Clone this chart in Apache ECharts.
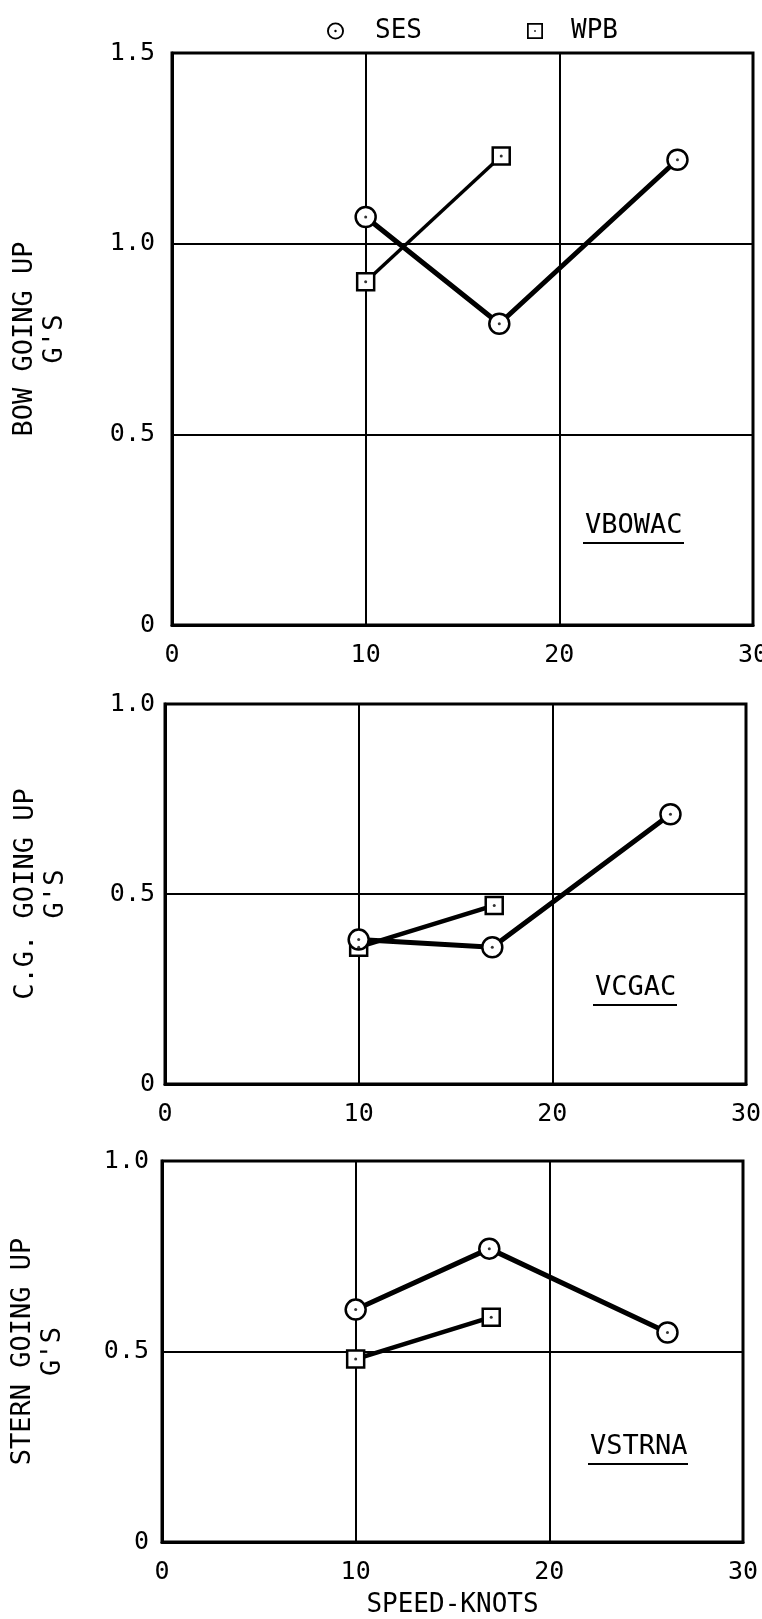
<!DOCTYPE html>
<html><head><meta charset="utf-8">
<script src="https://cdn.jsdelivr.net/npm/echarts@6/dist/echarts.min.js"></script>
<style>html,body{margin:0;padding:0;background:#fff}#c{width:762px;height:1619px}</style>
</head><body><div id="c"></div>
<script>
// ---- data ----
const xTicks = ['0', '10', '20', '30'];
const sesSpeed = [10, 16.9, 26.1];
const wpbSpeed = [10, 17];
const bowSES = [1.07, 0.79, 1.22];
const bowWPB = [0.90, 1.23];
const cgSES = [0.38, 0.36, 0.71];
const cgWPB = [0.36, 0.47];
const sternSES = [0.61, 0.77, 0.55];
const sternWPB = [0.48, 0.59];
const yTicksBow = ['0', '0.5', '1.0', '1.5'];
const yTicksCG = ['0', '0.5', '1.0'];
const yTicksStern = ['0', '0.5', '1.0'];
const yTitles = ["BOW GOING UP\nG'S", "C.G. GOING UP\nG'S", "STERN GOING UP\nG'S"];
const panelTags = ['VBOWAC', 'VCGAC', 'VSTRNA'];
const xTitle = 'SPEED-KNOTS';
const seriesNames = ['SES', 'WPB'];

// ---- layout ----
const FONT = '"DejaVu Sans Mono", "Liberation Mono", monospace';
const grids = [
  {left: 172, top: 53, width: 581, height: 572},
  {left: 165, top: 704, width: 581, height: 380},
  {left: 162, top: 1161, width: 581, height: 381}
];
const yMax = [1.5, 1.0, 1.0];
const yLabelSets = [yTicksBow, yTicksCG, yTicksStern];
const panelData = [[bowSES, bowWPB], [cgSES, cgWPB], [sternSES, sternWPB]];
const nameGaps = [102, 94, 94];
const yLabelMargins = [17, 10, 13];
const wpbWidths = [3.5, 4.5, 4.5];
// text left, text centre y, underline x1, x2, y
const tagPos = [[585, 526, 583, 684, 543], [595, 988, 593, 677, 1005], [590, 1447, 588, 688, 1464]];

const zip = (xs, ys) => xs.map((x, i) => [x, ys[i]]);

const ringIcon = 'path://M10,0 A10,10 0 1,1 10,20 A10,10 0 1,1 10,0 Z M10,2.2 A7.8,7.8 0 1,0 10,17.8 A7.8,7.8 0 1,0 10,2.2 Z M10,8.6 A1.4,1.4 0 1,1 10,11.4 A1.4,1.4 0 1,1 10,8.6 Z';
const boxIcon = 'path://M0,0 L20,0 L20,20 L0,20 Z M2.2,2.2 L2.2,17.8 L17.8,17.8 L17.8,2.2 Z M9,9 L11,9 L11,11 L9,11 Z';

const xAxes = [], yAxes = [], series = [], graphics = [];
grids.forEach((g, i) => {
  xAxes.push({
    type: 'value', gridIndex: i, min: 0, max: 30, interval: 10,
    axisLine: {show: true, onZero: false, lineStyle: {color: '#000', width: 3}},
    axisTick: {show: false},
    splitLine: {show: true, lineStyle: {color: '#000', width: 2}},
    axisLabel: {color: '#000', fontFamily: FONT, fontSize: 25, margin: 18,
      formatter: v => xTicks[Math.round(v / 10)]},
    name: i === 2 ? xTitle : '', nameLocation: 'middle', nameGap: 50,
    nameTextStyle: {color: '#000', fontFamily: FONT, fontSize: 26}
  });
  yAxes.push({
    type: 'value', gridIndex: i, min: 0, max: yMax[i], interval: 0.5,
    axisLine: {show: true, lineStyle: {color: '#000', width: 3}},
    axisTick: {show: false},
    splitLine: {show: true, lineStyle: {color: '#000', width: 2}},
    axisLabel: {color: '#000', fontFamily: FONT, fontSize: 25, margin: yLabelMargins[i],
      formatter: v => yLabelSets[i][Math.round(v / 0.5)]},
    name: yTitles[i], nameLocation: 'middle', nameRotate: 90, nameGap: nameGaps[i],
    nameTextStyle: {color: '#000', fontFamily: FONT, fontSize: 27, lineHeight: 30, align: 'center'}
  });
  const [ses, wpb] = panelData[i];
  const common = {
    type: 'line', xAxisIndex: i, yAxisIndex: i, silent: true, animation: false,
    itemStyle: {color: '#fff', borderColor: '#000', borderWidth: 2.5}
  };
  series.push(Object.assign({}, common, {
    name: seriesNames[1], data: zip(wpbSpeed, wpb), symbol: 'rect', symbolSize: 17, z: 3,
    lineStyle: {color: '#000', width: wpbWidths[i]}
  }));
  series.push(Object.assign({}, common, {
    name: seriesNames[0], data: zip(sesSpeed, ses), symbol: 'circle', symbolSize: 20, z: 4,
    lineStyle: {color: '#000', width: 5}
  }));
  series.push({
    type: 'scatter', xAxisIndex: i, yAxisIndex: i, silent: true, animation: false,
    data: zip(sesSpeed, ses).concat(zip(wpbSpeed, wpb)),
    symbol: 'circle', symbolSize: 3, itemStyle: {color: '#000'}, z: 6
  });
  const t = tagPos[i];
  graphics.push({type: 'text', x: t[0], y: t[1],
    style: {text: panelTags[i], fill: '#000', font: '27px ' + FONT, verticalAlign: 'middle', align: 'left'}});
  graphics.push({type: 'line', shape: {x1: t[2], y1: t[4], x2: t[3], y2: t[4]},
    style: {stroke: '#000', lineWidth: 2}});
});

const chart = echarts.init(document.getElementById('c'), null, {renderer: 'canvas'});
chart.setOption({
  backgroundColor: '#fff',
  animation: false,
  grid: grids.map(g => Object.assign({show: true, borderColor: '#000', borderWidth: 3,
    backgroundColor: 'transparent', containLabel: false, outerBoundsMode: 'none'}, g)),
  xAxis: xAxes,
  yAxis: yAxes,
  legend: [
    {left: 322, top: 13, itemWidth: 17, itemHeight: 17, selectedMode: false,
      textStyle: {color: '#000', fontFamily: FONT, fontSize: 26, padding: [0, 0, 0, 26]},
      data: [{name: seriesNames[0], icon: ringIcon, itemStyle: {color: '#000', borderWidth: 0}}]},
    {left: 522, top: 13, itemWidth: 18, itemHeight: 16, selectedMode: false,
      textStyle: {color: '#000', fontFamily: FONT, fontSize: 26, padding: [0, 0, 0, 22]},
      data: [{name: seriesNames[1], icon: boxIcon, itemStyle: {color: '#000', borderWidth: 0}}]}
  ],
  graphic: graphics,
  series: series
});
</script></body></html>
